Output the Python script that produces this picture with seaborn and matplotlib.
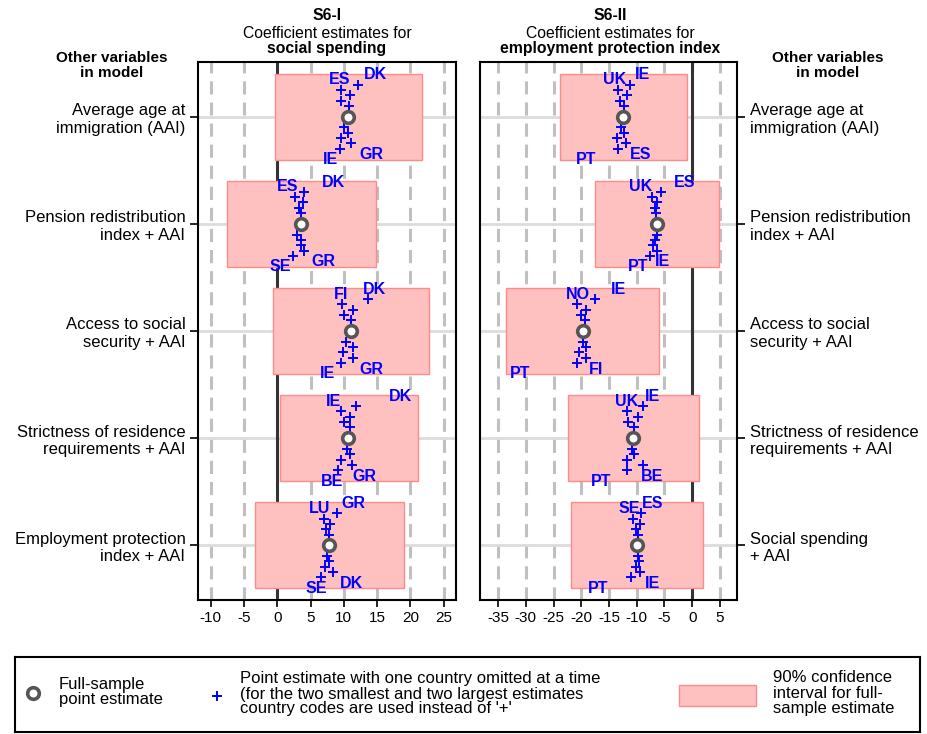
import numpy as np
import pandas as pd
import seaborn as sns
import matplotlib.pyplot as plt
from matplotlib.patches import Rectangle

rows = [1, 2, 3, 4, 5]
left_names = ["Average age at\nimmigration (AAI)", "Pension redistribution\nindex + AAI",
              "Access to social\nsecurity + AAI", "Strictness of residence\nrequirements + AAI",
              "Employment protection\nindex + AAI"]
right_names = ["Average age at\nimmigration (AAI)", "Pension redistribution\nindex + AAI",
               "Access to social\nsecurity + AAI", "Strictness of residence\nrequirements + AAI",
               "Social spending\n+ AAI"]

# S6-I: social spending
left_est = [10.7, 3.6, 11.1, 10.7, 7.8]
left_lo = [-0.4, -7.6, -0.7, 0.4, -3.3]
left_hi = [21.7, 14.8, 22.8, 21.1, 19.0]
# leave-one-out estimates, top to bottom (5 above, 5 below the full estimate)
left_plus = [
    [12.1, 9.6, 10.9, 9.6, 10.8, 10.1, 10.6, 9.6, 11.1, 9.4],
    [4.0, 2.65, 3.9, 3.3, 3.5, 3.0, 3.5, 3.6, 4.0, 2.3],
    [13.6, 9.7, 11.4, 10.0, 11.1, 10.4, 11.4, 9.9, 11.4, 9.6],
    [11.8, 9.6, 10.9, 10.1, 10.9, 10.5, 10.9, 9.6, 11.3, 9.1],
    [8.9, 7.0, 7.9, 7.3, 7.8, 7.4, 7.8, 7.1, 8.3, 6.5],
]
left_top_a = [("ES", 9.3), ("ES", 1.6), ("FI", 9.6), ("IE", 8.5), ("LU", 6.4)]
left_top_b = [("DK", 14.7), ("DK", 8.4), ("DK", 14.6), ("DK", 18.5), ("GR", 11.4)]
left_bot_a = [("IE", 8.0), ("SE", 0.4), ("IE", 7.6), ("BE", 8.3), ("SE", 5.8)]
left_bot_b = [("GR", 14.2), ("GR", 7.0), ("GR", 14.1), ("GR", 13.1), ("DK", 11.1)]

# S6-II: employment protection index
right_est = [-12.4, -6.4, -19.7, -10.6, -9.9]
right_lo = [-23.8, -17.6, -33.6, -22.3, -21.8]
right_hi = [-1.0, 4.75, -6.0, 1.3, 1.9]
right_plus = [
    [-11.2, -13.4, -11.8, -13.05, -12.3, -12.75, -12.3, -13.5, -12.0, -13.4],
    [-5.7, -7.3, -6.3, -6.7, -6.55, -6.4, -6.7, -7.15, -6.4, -7.6],
    [-17.6, -20.8, -19.1, -20.0, -19.4, -19.7, -19.2, -20.4, -19.1, -20.8],
    [-8.95, -11.8, -9.7, -11.5, -10.5, -10.9, -10.5, -11.7, -8.9, -11.8],
    [-9.3, -10.75, -9.4, -10.2, -9.75, -9.75, -9.6, -10.05, -9.4, -11.1],
]
right_top_a = [("UK", -13.95), ("UK", -9.3), ("NO", -20.6), ("UK", -11.8), ("SE", -11.4)]
right_top_b = [("IE", -9.0), ("ES", -1.3), ("IE", -13.2), ("IE", -7.15), ("ES", -7.15)]
right_bot_a = [("PT", -19.2), ("PT", -9.7), ("PT", -31.1), ("PT", -16.5), ("PT", -17.0)]
right_bot_b = [("ES", -9.3), ("IE", -5.3), ("FI", -17.3), ("BE", -7.3), ("IE", -7.15)]

left_ticks = [-10, -5, 0, 5, 10, 15, 20, 25]
right_ticks = [-35, -30, -25, -20, -15, -10, -5, 0, 5]

sns.set_theme(style="white")
plt.rcParams['font.family'] = ['Liberation Sans', 'DejaVu Sans']
plt.rcParams['text.color'] = 'black'
plt.rcParams['xtick.color'] = 'black'
plt.rcParams['ytick.color'] = 'black'

BLUE = '#0000FF'
W, H = 927, 734
fig = plt.figure(figsize=(W / 100, H / 100), dpi=100)


def draw_panel(ax, est, lo, hi, plus, ta, tb, ba, bb, xlim, ticks, names, side):
    ax.set_xlim(*xlim)
    ax.set_ylim(5.51, 0.49)
    for t in ticks:
        if t == 0:
            ax.axvline(0, color='#333333', lw=2.2, zorder=0.6)
        else:
            ax.axvline(t, color='#C0C0C0', lw=2.2, ls=(0, (4.3, 2.6)), zorder=0.4)
    for r in rows:
        ax.axhline(r, color='#DCDCDC', lw=2, zorder=0.5)
    ax.barh(rows, np.array(hi) - np.array(lo), left=lo, height=0.8,
            color='#FFC0C0', edgecolor='#FF8A8A', lw=1, zorder=2)

    recs = []
    for r, vals in zip(rows, plus):
        n = len(vals) // 2
        offs = list(-0.10 - 0.05 * np.arange(n)[::-1]) + list(0.10 + 0.05 * np.arange(len(vals) - n))
        for v, o in zip(vals, offs):
            recs.append({'est': v, 'y': r + o})
    dfp = pd.DataFrame(recs)
    sns.scatterplot(data=dfp, x='est', y='y', marker='+', s=60, color=BLUE,
                    linewidth=1.4, ax=ax, zorder=4)

    dfe = pd.DataFrame({'est': est, 'y': rows})
    sns.scatterplot(data=dfe, x='est', y='y', marker='o', s=70, facecolor='white',
                    edgecolor='#555555', linewidth=2.6, ax=ax, zorder=5)

    for r, a, b, c, d in zip(rows, ta, tb, ba, bb):
        for (code, v), off in ((b, -0.39), (a, -0.345), (d, 0.355), (c, 0.40)):
            ax.text(v, r + off, code, color=BLUE, fontweight='bold', fontsize=11.5,
                    ha='center', va='center', zorder=6)

    ax.set_xticks(ticks)
    ax.set_xticklabels([str(t) for t in ticks], fontsize=11)
    ax.set_yticks(rows)
    ax.set_yticklabels(names, fontsize=12)
    ax.set_xlabel('')
    ax.set_ylabel('')
    if side == 'right':
        ax.yaxis.tick_right()
        ax.tick_params(axis='y', left=False, right=True)
    else:
        ax.tick_params(axis='y', left=True, right=False)
    ax.tick_params(axis='both', direction='out', length=6, width=1.2, color='black',
                   pad=3, labelcolor='black')
    ax.tick_params(axis='x', bottom=True, length=5)
    for s in ax.spines.values():
        s.set_color('black')
        s.set_linewidth(1.5)


bottom = 1 - 600 / H
height = 538 / H
axL = fig.add_axes([198 / W, bottom, (456 - 198) / W, height])
axR = fig.add_axes([480 / W, bottom, (737 - 480) / W, height])

draw_panel(axL, left_est, left_lo, left_hi, left_plus, left_top_a, left_top_b,
           left_bot_a, left_bot_b, (-11.92, 26.86), left_ticks, left_names, 'left')
draw_panel(axR, right_est, right_lo, right_hi, right_plus, right_top_a, right_top_b,
           right_bot_a, right_bot_b, (-38.25, 8.07), right_ticks, right_names, 'right')

# panel titles
for xc, t1, t3 in ((327, 'S6-I', 'social spending'),
                   (610, 'S6-II', 'employment protection index')):
    fig.text(xc / W, 1 - 16 / H, t1, ha='center', va='center', fontsize=11.3, fontweight='bold')
    fig.text(xc / W, 1 - 33 / H, 'Coefficient estimates for', ha='center', va='center', fontsize=11.3)
    fig.text(xc / W, 1 - 49 / H, t3, ha='center', va='center', fontsize=11.3, fontweight='bold')

for xc in (112, 828):
    fig.text(xc / W, 1 - 58 / H, 'Other variables', ha='center', va='center', fontsize=11, fontweight='bold')
    fig.text(xc / W, 1 - 73 / H, 'in model', ha='center', va='center', fontsize=11, fontweight='bold')

# legend box
lg = fig.add_axes([15 / W, 1 - 732 / H, (920 - 15) / W, (732 - 657) / H])
lg.set_xlim(15, 920)
lg.set_ylim(732, 657)
lg.set_xticks([])
lg.set_yticks([])
lg.set_facecolor('white')
for s in lg.spines.values():
    s.set_color('black')
    s.set_linewidth(1.5)
lg.scatter([33], [693], s=70, facecolor='white', edgecolor='#555555', linewidth=2.6)
lg.text(59, 692, 'Full-sample\npoint estimate', ha='left', va='center', fontsize=12, linespacing=1.0)
lg.scatter([217], [696], s=60, marker='+', color=BLUE, linewidth=1.4)
lg.text(240, 694, "Point estimate with one country omitted at a time\n"
        "(for the two smallest and two largest estimates\n"
        "country codes are used instead of '+'",
        ha='left', va='center', fontsize=12, linespacing=1.0)
lg.add_patch(Rectangle((679, 685), 77, 21, facecolor='#FFC0C0', edgecolor='#FF8A8A', lw=1))
lg.text(773, 693, '90% confidence\ninterval for full-\nsample estimate',
        ha='left', va='center', fontsize=12, linespacing=1.0)

fig.savefig('out.png', dpi=100)
